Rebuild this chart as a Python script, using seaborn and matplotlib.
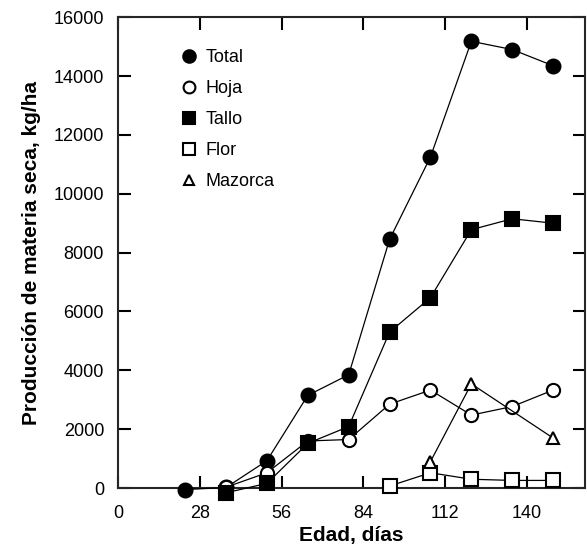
import matplotlib
matplotlib.use("Agg")
import matplotlib.pyplot as plt
from matplotlib.lines import Line2D
import seaborn as sns

# Datos
dias = [23, 37, 51, 65, 79, 93, 107, 121, 135, 149]
total = [-50, 20, 930, 3150, 3850, 8450, 11250, 15180, 14900, 14350]
hoja = [30, 30, 520, 1600, 1650, 2850, 3330, 2480, 2770, 3330]
tallo = [None, -160, 160, 1520, 2090, 5300, 6470, 8780, 9150, 9000]
dias_flor = [93, 107, 121, 135, 149]
flor = [70, 520, 300, 260, 260]
dias_mazorca = [107, 121, 149]
mazorca = [900, 3540, 1700]

sns.set_style("ticks")
plt.rcParams["font.family"] = ["Liberation Sans", "DejaVu Sans"]
plt.rcParams["text.color"] = "black"
plt.rcParams["axes.labelcolor"] = "black"
plt.rcParams["xtick.color"] = "black"
plt.rcParams["ytick.color"] = "black"

fig = plt.figure(figsize=(5.87, 5.54), dpi=100)
ax = fig.add_axes([0.201, 0.119, 0.796, 0.850])

series = [
    ("Total", dias, total, "o", "black", 10),
    ("Hoja", dias[1:], hoja[1:], "o", "white", 9.5),
    ("Tallo", dias[1:], tallo[1:], "s", "black", 10),
    ("Flor", dias_flor, flor, "s", "white", 9.5),
    ("Mazorca", dias_mazorca, mazorca, "^", "white", 8.5),
]

handles = []
for name, x, y, m, fc, ms in series:
    sns.lineplot(x=x, y=y, ax=ax, color="black", lw=0.9, marker=m, ms=ms,
                 markerfacecolor=fc, markeredgecolor="black", markeredgewidth=1.5,
                 clip_on=False, zorder=3)
    handles.append(Line2D([], [], ls="none", marker=m, ms=ms - 1,
                          markerfacecolor=fc, markeredgecolor="black",
                          markeredgewidth=1.5, label=name))

ax.set_xlim(0, 160)
ax.set_ylim(0, 16000)
ax.set_xticks([0, 28, 56, 84, 112, 140])
ax.set_yticks(range(0, 16001, 2000))
ax.tick_params(direction="in", length=9, width=1.5, top=True, right=True,
               labelsize=13)
ax.tick_params(axis="x", pad=12)
ax.tick_params(axis="y", pad=10)
for s in ax.spines.values():
    s.set_linewidth(1.5)
    s.set_visible(True)

ax.set_xlabel("Edad, días", fontsize=15, fontweight="bold", labelpad=3)
ax.set_ylabel("Producción de materia seca, kg/ha", fontsize=15,
              fontweight="bold", labelpad=9)

ax.legend(handles=handles, loc="upper left", bbox_to_anchor=(0.122, 0.948),
          frameon=False, fontsize=13, handlelength=0.8, handletextpad=0.5,
          labelspacing=0.78, borderaxespad=0)

fig.savefig("out.png", dpi=100)
